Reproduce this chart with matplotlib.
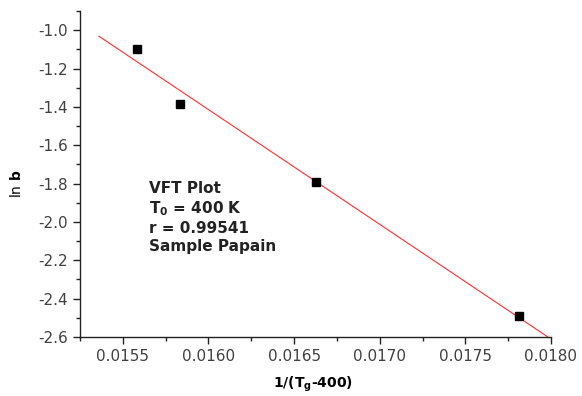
import matplotlib
matplotlib.use("Agg")
import matplotlib.pyplot as plt
import numpy as np
from matplotlib.ticker import MultipleLocator, FormatStrFormatter

plt.rcParams['font.family'] = ['DejaVu Sans']
plt.rcParams['axes.unicode_minus'] = False
plt.rcParams['mathtext.fontset'] = 'dejavusans'

inv_T = [0.015582, 0.015834, 0.016626, 0.017812]
ln_b = [-1.097, -1.387, -1.793, -2.488]
fit_range = [0.01536, 0.01802]

fig = plt.figure(figsize=(5.82, 3.96), dpi=100)
ax = fig.add_axes([0.1375, 0.149, 0.8092, 0.823])

slope, intercept = np.polyfit(inv_T, ln_b, 1)
xf = np.array(fit_range)
ax.plot(xf, slope * xf + intercept, color='#ff3030', lw=0.8, zorder=2)
ax.plot(inv_T, ln_b, 's', color='black', markersize=5.5, zorder=3)

ax.set_xlim(0.01525, 0.0180)
ax.set_ylim(-2.6, -0.9)
ax.xaxis.set_major_locator(MultipleLocator(0.0005))
ax.xaxis.set_minor_locator(MultipleLocator(0.00025))
ax.yaxis.set_major_locator(MultipleLocator(0.2))
ax.yaxis.set_minor_locator(MultipleLocator(0.1))
ax.xaxis.set_major_formatter(FormatStrFormatter('%.4f'))
ax.yaxis.set_major_formatter(FormatStrFormatter('%.1f'))

for s in ['top', 'right']:
    ax.spines[s].set_visible(False)
for s in ['left', 'bottom']:
    ax.spines[s].set_linewidth(1.0)
    ax.spines[s].set_color('#222222')

ax.tick_params(which='major', direction='out', length=5, width=1, colors='#222222',
               labelsize=11, labelcolor='#404040', pad=4)
ax.tick_params(which='minor', direction='out', length=3, width=1, colors='#222222')

ax.set_xlabel(r'1/(T$_\mathregular{g}$-400)', fontsize=10, fontweight='bold')
ax.xaxis.set_label_coords(0.495, -0.115)
ax.set_ylabel(r'ln $\mathbf{b}$', fontsize=10)
ax.yaxis.set_label_coords(-0.12, 0.47)

ax.text(0.015655, -1.785, 'VFT Plot\nT$_\\mathregular{0}$ = 400 K\nr = 0.99541\nSample Papain',
        fontsize=11, fontweight='bold', color='#222222', va='top', ha='left', linespacing=1.25)

fig.savefig('out.png', dpi=100)
